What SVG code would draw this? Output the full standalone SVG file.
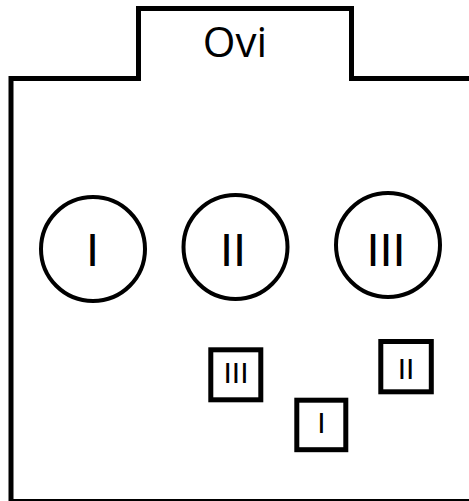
<svg xmlns="http://www.w3.org/2000/svg" width="469" height="501" viewBox="0 0 469 501">
<style>
.o{fill:none;stroke:#000;stroke-width:5}
.c{fill:#fff;stroke:#000;stroke-width:4}
.s{fill:#fff;stroke:#000;stroke-width:5}
text{font-family:"Liberation Sans",Arial,sans-serif;fill:#000;text-anchor:middle}
.big{font-size:47px}
.sm{font-size:30px}
</style>
<rect width="469" height="501" fill="#fff"/>
<g id="ovi">
<path class="o" d="M11 501.5 V78.5 H138.5 V8.5 H351.5 V78.5 H476 V501.5 Z"/>
<text x="235" y="57" style="font-family:'Open Sans','Liberation Sans',sans-serif;font-size:42px">Ovi</text>
</g>
<g id="circle-I"><circle class="c" cx="93" cy="249" r="52"/><text class="big" x="92.5" y="266">I</text></g>
<g id="circle-II"><circle class="c" cx="235.5" cy="247" r="52"/><text class="big" x="233" y="266">II</text></g>
<g id="circle-III"><circle class="c" cx="388" cy="245" r="52"/><text class="big" x="386" y="266">III</text></g>
<g id="square-III"><rect class="s" x="210.8" y="349.8" width="50" height="50"/><text class="sm" x="236" y="383">III</text></g>
<g id="square-I"><rect class="s" x="296.8" y="400.2" width="49" height="49.5"/><text class="sm" x="321.5" y="433">I</text></g>
<g id="square-II"><rect class="s" x="380.8" y="341.5" width="50.5" height="50.3"/><text class="sm" x="406" y="379">II</text></g>
<g id="connectors"/>
</svg>
